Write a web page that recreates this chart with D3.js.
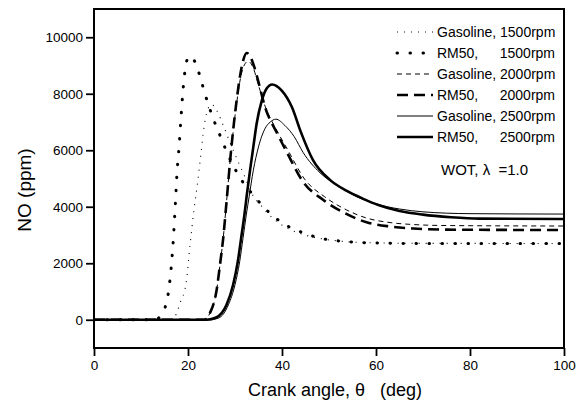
<!DOCTYPE html>
<html>
<head>
<meta charset="utf-8">
<script src="https://cdn.jsdelivr.net/npm/d3@7"></script>
<style>
  body { margin: 0; background: #fff; }
  text { font-family: Arial, "Liberation Sans", Helvetica, sans-serif; fill: #000; }
</style>
</head>
<body>
<div id="container"></div>
<script>
// crank angle (deg) and NO (ppm), one pair per curve
const gas1500Angle = [0, 16.5, 17.5, 18.3, 19.6, 20.4, 21.2, 22.0, 22.7, 23.4, 24.2, 25.0, 26.1, 27.5, 28.9, 30.4, 32.1, 33.6, 35.5, 38, 41, 44.5, 48, 52, 56, 62, 70, 100];
const gas1500NO    = [0, 0, 200, 590, 1300, 2590, 3800, 4800, 5800, 6800, 7450, 7620, 7410, 6880, 6290, 5700, 5060, 4470, 4050, 3600, 3250, 3020, 2880, 2790, 2740, 2715, 2705, 2700];

const rm1500Angle = [0, 13.0, 14.2, 15.1, 15.8, 16.4, 16.9, 17.3, 17.7, 18.1, 18.5, 19.0, 19.9, 20.5, 21.5, 22.6, 23.5, 25.5, 26.8, 28.1, 29.6, 31.4, 33.9, 36.4, 39.2, 42.1, 44.9, 47.7, 50.6, 56.2, 62, 70, 100];
const rm1500NO    = [0, 0, 150, 420, 940, 1800, 2900, 4060, 5290, 6120, 7120, 8240, 9240, 9330, 9120, 8590, 8060, 7060, 6530, 6000, 5470, 4940, 4410, 3940, 3530, 3240, 3060, 2900, 2820, 2740, 2710, 2700, 2700];

const gas2000Angle = [0, 23.5, 24.7, 26.1, 26.8, 27.5, 28.0, 28.5, 29.0, 29.6, 30.3, 31.0, 31.8, 32.8, 33.8, 35.0, 36.4, 38.9, 41.2, 44.8, 49.1, 53.7, 58, 63, 68, 75, 100];
const gas2000NO    = [0, 0, 250, 1060, 1940, 2900, 3800, 4750, 5700, 6650, 7600, 8400, 8950, 9150, 8950, 8300, 7560, 6700, 6020, 4980, 4350, 3890, 3600, 3440, 3370, 3335, 3318];

const rm2000Angle = [0, 23.5, 24.7, 26.1, 26.8, 27.5, 28.0, 28.5, 29.0, 29.6, 30.3, 31.0, 31.7, 32.5, 33.3, 34.2, 35.0, 36.4, 38.9, 41.0, 44.5, 48.8, 53.4, 58, 63, 68, 75, 100];
const rm2000NO    = [0, 0, 250, 1060, 1940, 2900, 3800, 4750, 5700, 6700, 7700, 8550, 9150, 9440, 9300, 8900, 8410, 7530, 6620, 5940, 4880, 4240, 3770, 3450, 3300, 3230, 3190, 3176];

const gas2500Angle = [0, 24.5, 26.5, 28.6, 30.0, 31.0, 31.7, 32.4, 33.0, 33.9, 35.0, 36.4, 37.5, 38.7, 40.6, 42.6, 44.5, 48.1, 52.3, 56, 60, 65, 70, 80, 100];
const gas2500NO    = [0, 0, 60, 530, 1240, 2060, 2880, 3710, 4350, 5290, 6120, 6770, 7000, 7100, 6880, 6480, 5920, 5200, 4700, 4350, 4100, 3920, 3820, 3755, 3741];

const rm2500Angle = [0, 24.0, 26.0, 28.2, 29.6, 30.6, 31.3, 32.0, 32.5, 33.2, 33.9, 34.6, 35.7, 36.7, 37.9, 39.9, 42.1, 44.0, 46.6, 50.2, 53.8, 57.3, 60.5, 65, 70, 76, 82, 100];
const rm2500NO    = [0, 0, 80, 530, 1240, 2060, 2880, 3710, 4400, 5290, 6120, 6940, 7760, 8180, 8330, 8120, 7530, 6650, 5650, 4950, 4560, 4280, 4060, 3850, 3720, 3630, 3580, 3565];

const legendNames = ["Gasoline,", "RM50,", "Gasoline,", "RM50,", "Gasoline,", "RM50,"];
const legendSpeeds = ["1500rpm", "1500rpm", "2000rpm", "2000rpm", "2500rpm", "2500rpm"];

const xTicks = [0, 20, 40, 60, 80, 100];
const yTicks = [0, 2000, 4000, 6000, 8000, 10000];

const width = 588;
const height = 413;
const plotL = 94, plotR = 564, plotT = 9, plotB = 348;

const x = d3.scaleLinear().domain([0, 100]).range([plotL, plotR]);
const y = d3.scaleLinear().domain([-1000, 11000]).range([plotB, plotT]);

// line style for each curve, same order as the legend
const styles = [
  { w: 1.1, dash: "1,6",      cap: "butt" },
  { w: 3,   dash: "0.5,12.5", cap: "round" },
  { w: 1,   dash: "5,4",      cap: "butt" },
  { w: 2.6, dash: "11,6",     cap: "butt" },
  { w: 1,   dash: null,       cap: "butt" },
  { w: 2.6, dash: null,       cap: "butt" }
];

const series = [
  [gas1500Angle, gas1500NO],
  [rm1500Angle, rm1500NO],
  [gas2000Angle, gas2000NO],
  [rm2000Angle, rm2000NO],
  [gas2500Angle, gas2500NO],
  [rm2500Angle, rm2500NO]
].map(([a, v]) => a.map((d, i) => [d, v[i]]));

const svg = d3.select("#container")
  .append("svg")
  .attr("width", width)
  .attr("height", height);

svg.append("defs").append("clipPath").attr("id", "plot")
  .append("rect")
  .attr("x", plotL).attr("y", plotT)
  .attr("width", plotR - plotL).attr("height", plotB - plotT);

const line = d3.line()
  .x(d => x(d[0]))
  .y(d => y(d[1]))
  .curve(d3.curveMonotoneX);

// curves
series.forEach((pts, i) => {
  const s = styles[i];
  svg.append("path")
    .attr("clip-path", "url(#plot)")
    .attr("d", line(pts))
    .attr("fill", "none")
    .attr("stroke", "#000")
    .attr("stroke-width", s.w)
    .attr("stroke-linecap", s.cap)
    .attr("stroke-dasharray", s.dash);
});

// frame
svg.append("rect")
  .attr("x", plotL).attr("y", plotT)
  .attr("width", plotR - plotL).attr("height", plotB - plotT)
  .attr("fill", "none")
  .attr("stroke", "#000")
  .attr("stroke-width", 2);

// axes
const gx = svg.append("g")
  .attr("transform", `translate(0,${plotB})`)
  .call(d3.axisBottom(x).tickValues(xTicks).tickSize(8).tickPadding(4).tickFormat(d3.format("d")));
const gy = svg.append("g")
  .attr("transform", `translate(${plotL},0)`)
  .call(d3.axisLeft(y).tickValues(yTicks).tickSize(8).tickPadding(3).tickFormat(d3.format("d")));

[gx, gy].forEach(g => {
  g.select(".domain").remove();
  g.selectAll(".tick line").attr("stroke", "#000").attr("stroke-width", 1.8);
  g.selectAll(".tick text")
    .style("font-family", "Arial, 'Liberation Sans', sans-serif")
    .style("font-size", "13.5px")
    .attr("fill", "#000");
});

// axis titles
svg.append("text")
  .attr("x", 335)
  .attr("y", 396)
  .attr("text-anchor", "middle")
  .style("font-size", "18px")
  .style("white-space", "pre")
  .text("Crank angle, \u03b8   (deg)");

svg.append("text")
  .attr("transform", "translate(31,190) rotate(-90)")
  .attr("text-anchor", "middle")
  .style("font-size", "19px")
  .text("NO (ppm)");

// legend
const legendY = d3.scalePoint().domain(d3.range(6)).range([32, 137]);
legendNames.forEach((name, i) => {
  const ly = legendY(i);
  const s = styles[i];
  svg.append("line")
    .attr("x1", 397).attr("x2", 433)
    .attr("y1", ly).attr("y2", ly)
    .attr("stroke", "#000")
    .attr("stroke-width", s.w)
    .attr("stroke-linecap", s.cap)
    .attr("stroke-dasharray", s.dash);
  if (name === "Gasoline,") {
    svg.append("text")
      .attr("x", 437).attr("y", ly + 5)
      .style("font-size", "14px")
      .text(name + " " + legendSpeeds[i]);
  } else {
    svg.append("text")
      .attr("x", 437).attr("y", ly + 5)
      .style("font-size", "14px")
      .text(name);
    svg.append("text")
      .attr("x", 555).attr("y", ly + 5)
      .attr("text-anchor", "end")
      .style("font-size", "14px")
      .text(legendSpeeds[i]);
  }
});

svg.append("text")
  .attr("x", 441).attr("y", 175)
  .style("font-size", "15px")
  .style("white-space", "pre")
  .text("WOT, \u03bb  =1.0");
</script>
</body>
</html>
